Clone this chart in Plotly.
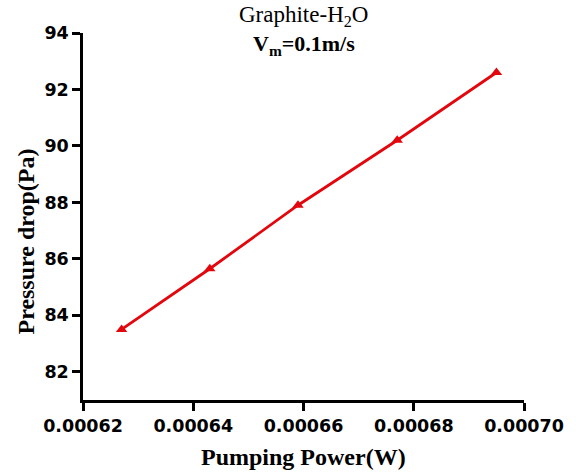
import plotly.graph_objects as go

# Data
pumping_power = [0.000627, 0.000643, 0.000659, 0.000677, 0.000695]
pressure_drop = [83.5, 85.65, 87.9, 90.2, 92.6]

x_tick_vals = [0.00062, 0.00064, 0.00066, 0.00068, 0.00070]
x_tick_text = ["0.00062", "0.00064", "0.00066", "0.00068", "0.00070"]
y_tick_vals = [82, 84, 86, 88, 90, 92, 94]
y_tick_text = ["82", "84", "86", "88", "90", "92", "94"]

title_line1 = "Graphite-H<sub>2</sub>O"
title_line2 = "<b>V<sub>m</sub>=0.1m/s</b>"
x_title = "<b>Pumping Power(W)</b>"
y_title = "<b>Pressure drop(Pa)</b>"

RED = "#e3070d"
tick_font = dict(family="DejaVu Sans", size=17.5, color="black", weight="bold")
serif = "Liberation Serif, Times New Roman, serif"

fig = go.Figure()
fig.add_trace(go.Scatter(
    x=pumping_power, y=pressure_drop, mode="lines+markers",
    line=dict(color=RED, width=2.8),
    marker=dict(symbol="triangle-up", size=10, color=RED),
    showlegend=False,
))

axis_common = dict(
    showline=True, linecolor="black", linewidth=2.5,
    ticks="outside", ticklen=8, tickwidth=2.5, tickcolor="black",
    showgrid=False, zeroline=False, tickfont=tick_font, mirror=False,
)

fig.update_xaxes(range=[0.00062, 0.00070], tickvals=x_tick_vals, ticktext=x_tick_text, **axis_common)
fig.update_yaxes(range=[81, 94], tickvals=y_tick_vals, ticktext=y_tick_text, **axis_common)

# extend the y axis slightly below the x axis
fig.add_shape(type="line", xref="paper", yref="y", x0=0, x1=0,
              ysizemode="pixel", yanchor=81, y0=0, y1=-8,
              line=dict(color="black", width=2.5))

fig.add_annotation(text=title_line1, xref="paper", yref="paper", x=0.5, y=1,
                   yshift=17, showarrow=False, yanchor="middle",
                   font=dict(family=serif, size=23, color="black"))
fig.add_annotation(text=title_line2, xref="paper", yref="paper", x=0.5, y=1,
                   yshift=-12, showarrow=False, yanchor="middle",
                   font=dict(family=serif, size=22, color="black"))
fig.add_annotation(text=x_title, xref="paper", yref="paper", x=0.5, y=0,
                   yshift=-57, showarrow=False, yanchor="middle",
                   font=dict(family=serif, size=24, color="black"))
fig.add_annotation(text=y_title, xref="paper", yref="paper", x=0, y=0.5,
                   xshift=-58, yshift=-25, showarrow=False, textangle=-90,
                   xanchor="center", yanchor="middle",
                   font=dict(family=serif, size=24, color="black"))

fig.update_layout(
    width=576, height=476,
    margin=dict(l=83, r=50, t=33, b=76),
    plot_bgcolor="white", paper_bgcolor="white",
)

fig.write_html("out.html")
